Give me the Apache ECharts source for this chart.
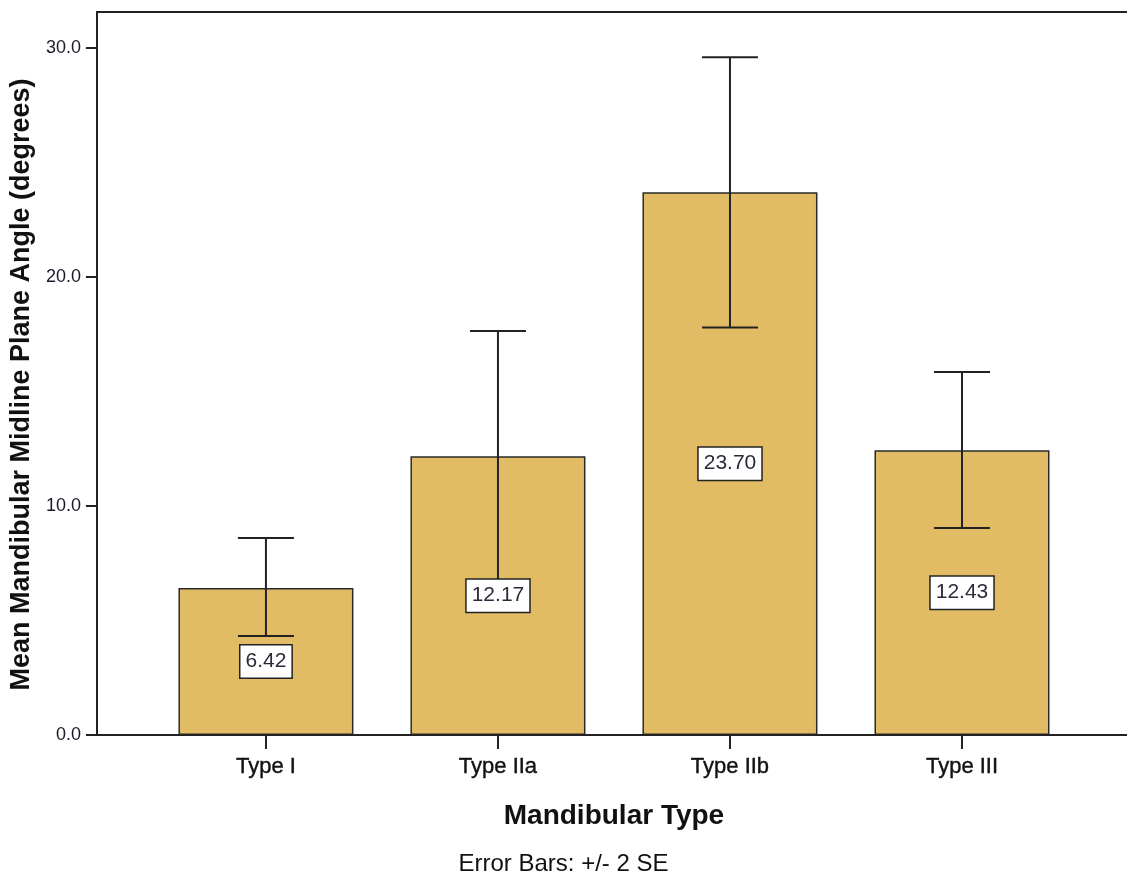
<!DOCTYPE html>
<html>
<head>
<meta charset="utf-8">
<script src="https://cdn.jsdelivr.net/npm/echarts@6/dist/echarts.min.js"></script>
<style>
  html, body { margin: 0; padding: 0; background: #fff; }
  #main { width: 1127px; height: 878px; }
</style>
</head>
<body>
<div id="main"></div>
<script>
// data
var categories = ['Type I', 'Type IIa', 'Type IIb', 'Type III'];
var means = [6.42, 12.17, 23.70, 12.43];
var lower = [4.32, 6.70, 17.80, 9.04];   // mean - 2 SE
var upper = [8.60, 17.64, 29.60, 15.85]; // mean + 2 SE
var yTicks = [0, 10, 20, 30];

var font = 'Arial, "Liberation Sans", sans-serif';
var ink = '#222';

var chart = echarts.init(document.getElementById('main'));

var errData = [];
for (var i = 0; i < categories.length; i++) {
    errData.push([i, lower[i], upper[i], means[i]]);
}

function renderErr(params, api) {
    var i = api.value(0);
    var lo = api.coord([i, api.value(1)]);
    var hi = api.coord([i, api.value(2)]);
    var mid = api.coord([i, api.value(3) / 2]);
    var half = 28;
    var ls = { stroke: ink, lineWidth: 2 };
    return {
        type: 'group',
        children: [
            { type: 'line', shape: { x1: hi[0], y1: hi[1], x2: lo[0], y2: lo[1] }, style: ls },
            { type: 'line', shape: { x1: hi[0] - half, y1: hi[1], x2: hi[0] + half, y2: hi[1] }, style: ls },
            { type: 'line', shape: { x1: lo[0] - half, y1: lo[1], x2: lo[0] + half, y2: lo[1] }, style: ls },
            {
                type: 'text', x: mid[0], y: mid[1], z2: 10,
                style: {
                    text: api.value(3).toFixed(2),
                    align: 'center', verticalAlign: 'middle',
                    fill: '#2a2a3a', font: '21px ' + font,
                    backgroundColor: '#fff', borderColor: ink, borderWidth: 1.5,
                    padding: [6, 5, 5, 5]
                }
            }
        ]
    };
}

var option = {
    backgroundColor: '#fff',
    animation: false,
    title: {
        text: 'Error Bars: +/- 2 SE',
        left: 'center',
        top: 847,
        textStyle: { fontFamily: font, fontSize: 24, fontWeight: 'normal', color: '#111' }
    },
    grid: { left: 149, right: 49, top: 48, bottom: 143 },
    xAxis: {
        type: 'category',
        data: categories,
        axisLine: { show: false },
        axisTick: { show: true, alignWithLabel: true, length: 14, lineStyle: { color: ink, width: 2 } },
        axisLabel: { fontFamily: font, fontSize: 22, color: '#111', margin: 21,
                     textBorderColor: '#111', textBorderWidth: 0.4 },
        name: 'Mandibular Type',
        nameLocation: 'middle',
        nameGap: 67,
        nameTextStyle: { fontFamily: font, fontSize: 28, fontWeight: 'bold', color: '#111' }
    },
    yAxis: {
        type: 'value',
        min: yTicks[0],
        max: yTicks[yTicks.length - 1],
        interval: 10,
        offset: 52,
        splitLine: { show: false },
        axisLine: { show: false },
        axisTick: { show: true, length: 12, lineStyle: { color: ink, width: 2 } },
        axisLabel: {
            fontFamily: font, fontSize: 18, color: '#1a1a2a', margin: 17,
            formatter: function (v) { return v.toFixed(1); }
        },
        name: 'Mean Mandibular Midline Plane Angle (degrees)',
        nameLocation: 'middle',
        nameGap: 62,
        nameTextStyle: { fontFamily: font, fontSize: 27, fontWeight: 'bold', color: '#111', padding: [0, 0, 0, 14] }
    },
    graphic: [
        { type: 'polyline', z: 100, shape: { points: [[1130, 12], [97, 12], [97, 735], [1130, 735]] },
          style: { stroke: ink, lineWidth: 2, fill: null } }
    ],
    series: [
        {
            type: 'bar',
            data: means,
            barWidth: 175,
            itemStyle: { color: '#E2BC64', borderColor: '#2a2a2a', borderWidth: 1.5 },
            z: 2
        },
        {
            type: 'custom',
            data: errData,
            renderItem: renderErr,
            z: 3
        }
    ]
};

chart.setOption(option);
</script>
</body>
</html>
